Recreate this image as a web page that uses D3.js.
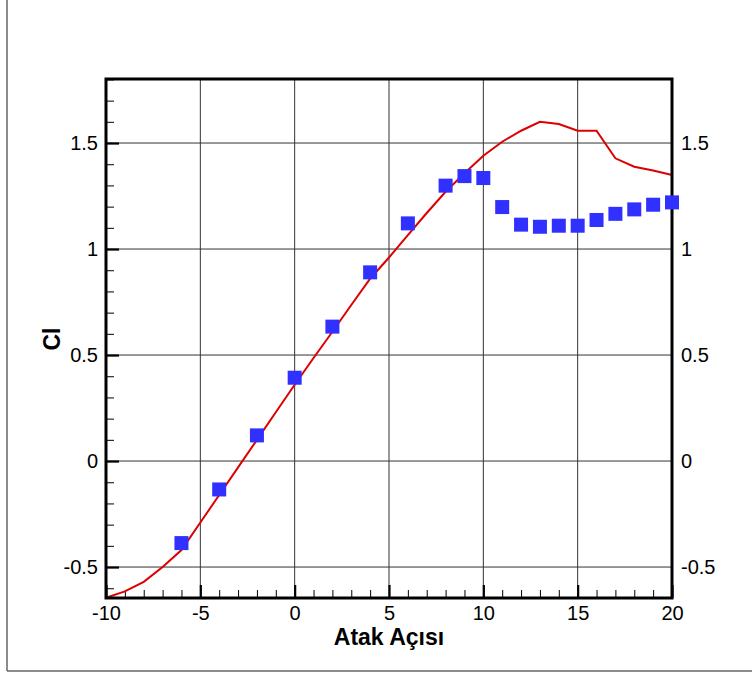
<!DOCTYPE html>
<html>
<head>
<meta charset="utf-8">
<script src="https://cdn.jsdelivr.net/npm/d3@7"></script>
<style>
  body { margin: 0; background: #fff; }
  svg { display: block; font-family: "Liberation Sans", Arial, sans-serif; }
</style>
</head>
<body>
<svg id="chart" width="752" height="673"></svg>
<script>
// CFD curve (red line)
const alphaCfd = [-10, -9, -8, -7, -6, -5, -4, -3, -2, -1, 0, 1, 2, 3, 4, 5, 6, 7, 8, 9, 10,
  11, 12, 13, 14, 15, 16, 17, 18, 19, 20];
const clCfd = [-0.645, -0.615, -0.57, -0.50, -0.42, -0.29, -0.16, -0.03, 0.10, 0.23, 0.36,
  0.486, 0.61, 0.736, 0.86, 0.96, 1.066, 1.17, 1.27, 1.357, 1.44,
  1.506, 1.558, 1.60, 1.59, 1.558, 1.558, 1.428, 1.388, 1.37, 1.349];

// experiment (blue squares)
const alphaExp = [-6, -4, -2, 0, 2, 4, 6, 8, 9, 10, 11, 12, 13, 14, 15, 16, 17, 18, 19, 20];
const clExp = [-0.387, -0.134, 0.121, 0.393, 0.634, 0.89, 1.121, 1.299, 1.344, 1.335,
  1.198, 1.115, 1.105, 1.11, 1.11, 1.137, 1.166, 1.187, 1.209, 1.22];

const xTicks = [-10, -5, 0, 5, 10, 15, 20];
const yTicks = [-0.5, 0, 0.5, 1, 1.5];
const xGrid = [-5, 0, 5, 10, 15];

const svg = d3.select("#chart");
const pLeft = 106, pRight = 672, pTop = 79, pBottom = 598;

const x = d3.scaleLinear().domain([-10, 20]).range([pLeft, pRight]);
const y = d3.scaleLinear().domain([-0.646, 1.802]).range([pBottom, pTop]);

// plain hyphen for negatives, like the original
const fmt = d => String(d);

// page border
svg.append("line").attr("x1", 7).attr("x2", 7).attr("y1", 0).attr("y2", 671)
  .attr("stroke", "#666").attr("stroke-width", 1.5);
svg.append("line").attr("x1", 7).attr("x2", 752).attr("y1", 671).attr("y2", 671)
  .attr("stroke", "#666").attr("stroke-width", 1.5);

// grid
const grid = svg.append("g").attr("stroke", "#333").attr("stroke-width", 1);
grid.selectAll(".gx").data(xGrid).join("line")
  .attr("x1", d => x(d)).attr("x2", d => x(d)).attr("y1", pTop).attr("y2", pBottom);
grid.selectAll(".gy").data(yTicks).join("line")
  .attr("y1", d => y(d)).attr("y2", d => y(d)).attr("x1", pLeft).attr("x2", pRight);

const fontSize = "20px";

// minor ticks
const minorX = d3.range(-10, 21, 1).filter(d => d % 5 !== 0);
const minorY = d3.range(-6, 19, 1).map(d => d / 10).filter(d => Math.round(d * 10) % 5 !== 0);

svg.append("g").attr("transform", "translate(0," + pBottom + ")")
  .call(d3.axisBottom(x).tickValues(minorX).tickSize(-8).tickFormat(""))
  .call(g => g.select(".domain").remove())
  .call(g => g.selectAll("line").attr("stroke", "#000").attr("stroke-width", 1));
svg.append("g").attr("transform", "translate(" + pLeft + ",0)")
  .call(d3.axisLeft(y).tickValues(minorY).tickSize(-8).tickFormat(""))
  .call(g => g.select(".domain").remove())
  .call(g => g.selectAll("line").attr("stroke", "#000").attr("stroke-width", 1));

// major axes
svg.append("g").attr("transform", "translate(0," + pBottom + ")")
  .call(d3.axisBottom(x).tickValues(xTicks).tickSize(-13).tickPadding(8).tickFormat(fmt))
  .call(g => g.select(".domain").remove())
  .call(g => g.selectAll("line").attr("stroke", "#000").attr("stroke-width", 2.2))
  .call(g => g.selectAll("text").attr("fill", "#000")
    .style("font-size", fontSize).style("font-family", "'Liberation Sans', Arial, sans-serif"));

svg.append("g").attr("transform", "translate(" + pLeft + ",0)")
  .call(d3.axisLeft(y).tickValues(yTicks).tickSize(-13).tickPadding(8).tickFormat(fmt))
  .call(g => g.select(".domain").remove())
  .call(g => g.selectAll("line").attr("stroke", "#000").attr("stroke-width", 2.2))
  .call(g => g.selectAll("text").attr("fill", "#000")
    .style("font-size", fontSize).style("font-family", "'Liberation Sans', Arial, sans-serif"));

svg.append("g").attr("transform", "translate(" + pRight + ",0)")
  .call(d3.axisRight(y).tickValues(yTicks).tickSize(0).tickPadding(9).tickFormat(fmt))
  .call(g => g.select(".domain").remove())
  .call(g => g.selectAll("text").attr("fill", "#000")
    .style("font-size", fontSize).style("font-family", "'Liberation Sans', Arial, sans-serif"));

// CFD line
const cfd = alphaCfd.map((a, i) => ({ a: a, cl: clCfd[i] }));
svg.append("path").datum(cfd)
  .attr("fill", "none").attr("stroke", "#dd0000").attr("stroke-width", 2)
  .attr("d", d3.line().x(d => x(d.a)).y(d => y(d.cl)));

// frame
svg.append("rect").attr("x", pLeft).attr("y", pTop)
  .attr("width", pRight - pLeft).attr("height", pBottom - pTop)
  .attr("fill", "none").attr("stroke", "#000").attr("stroke-width", 3);

// experiment squares
const ms = 14;
const exp = alphaExp.map((a, i) => ({ a: a, cl: clExp[i] }));
svg.selectAll(".pt").data(exp).join("rect")
  .attr("x", d => x(d.a) - ms / 2).attr("y", d => y(d.cl) - ms / 2)
  .attr("width", ms).attr("height", ms)
  .attr("fill", "#3030ff");

// axis titles
svg.append("text").attr("x", 389).attr("y", 645)
  .attr("text-anchor", "middle").style("font-size", "23px").style("font-weight", "bold")
  .text("Atak Açısı");
svg.append("text")
  .attr("transform", "translate(60,339) rotate(-90)")
  .attr("text-anchor", "middle").style("font-size", "23px").style("font-weight", "bold")
  .text("Cl");
</script>
</body>
</html>
